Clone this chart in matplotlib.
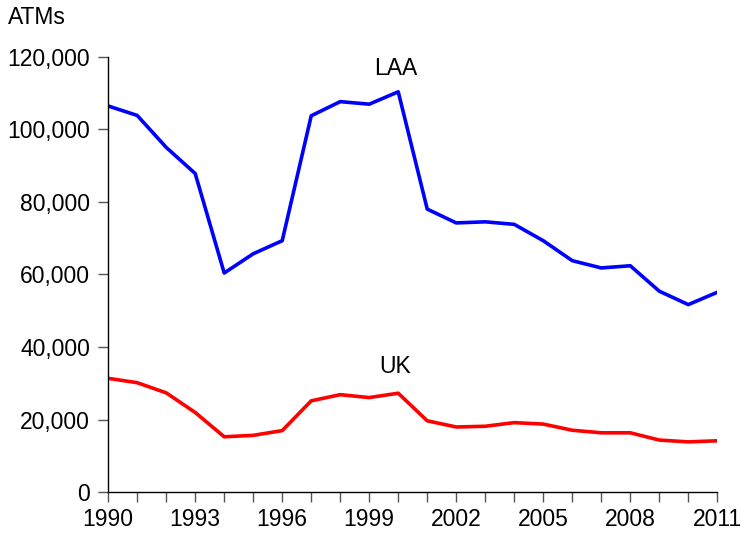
import numpy as np
import matplotlib
matplotlib.use("Agg")
from matplotlib import pyplot as plt
from matplotlib.ticker import FuncFormatter, MultipleLocator

years = list(range(1990, 2012))
laa = [106400, 103800, 95000, 87800, 60400, 65700, 69300, 103700, 107600, 106900, 110300,
       78000, 74200, 74500, 73800, 69300, 63800, 61800, 62400, 55400, 51700, 55100]
uk = [31400, 30200, 27400, 22000, 15300, 15700, 17000, 25200, 26900, 26100, 27300,
      19700, 18000, 18200, 19200, 18800, 17100, 16400, 16400, 14400, 13900, 14200]

plt.rcParams["font.family"] = ["Liberation Sans", "DejaVu Sans"]
plt.rcParams["font.size"] = 16.5

fig = plt.figure(figsize=(7.41, 5.34), dpi=100)
ax = fig.add_axes([0.146, 0.078, 0.822, 0.816])

ax.plot(years, laa, color="#0000ff", lw=2.6)
ax.plot(years, uk, color="#ff0000", lw=2.6)

ax.set_xlim(1990, 2011)
ax.set_ylim(0, 120000)
ax.yaxis.set_major_locator(MultipleLocator(20000))
ax.yaxis.set_major_formatter(FuncFormatter(lambda v, p: f"{int(v):,}"))
ax.set_xticks(years)
ax.set_xticklabels([str(y) if (y - 1990) % 3 == 0 else "" for y in years])

for s in ["top", "right"]:
    ax.spines[s].set_visible(False)
for s in ["left", "bottom"]:
    ax.spines[s].set_linewidth(1.0)
ax.tick_params(axis="both", direction="out", length=7, width=1.0, color="#555555")
ax.tick_params(axis="y", pad=6)
ax.tick_params(axis="x", pad=4)

ax.text(1999.9, 116600, "LAA", ha="center", va="center")
ax.text(1999.9, 34700, "UK", ha="center", va="center")
fig.text(8 / 741, 1 - 18 / 534, "ATMs", ha="left", va="center")

fig.savefig("out.png", dpi=100)
